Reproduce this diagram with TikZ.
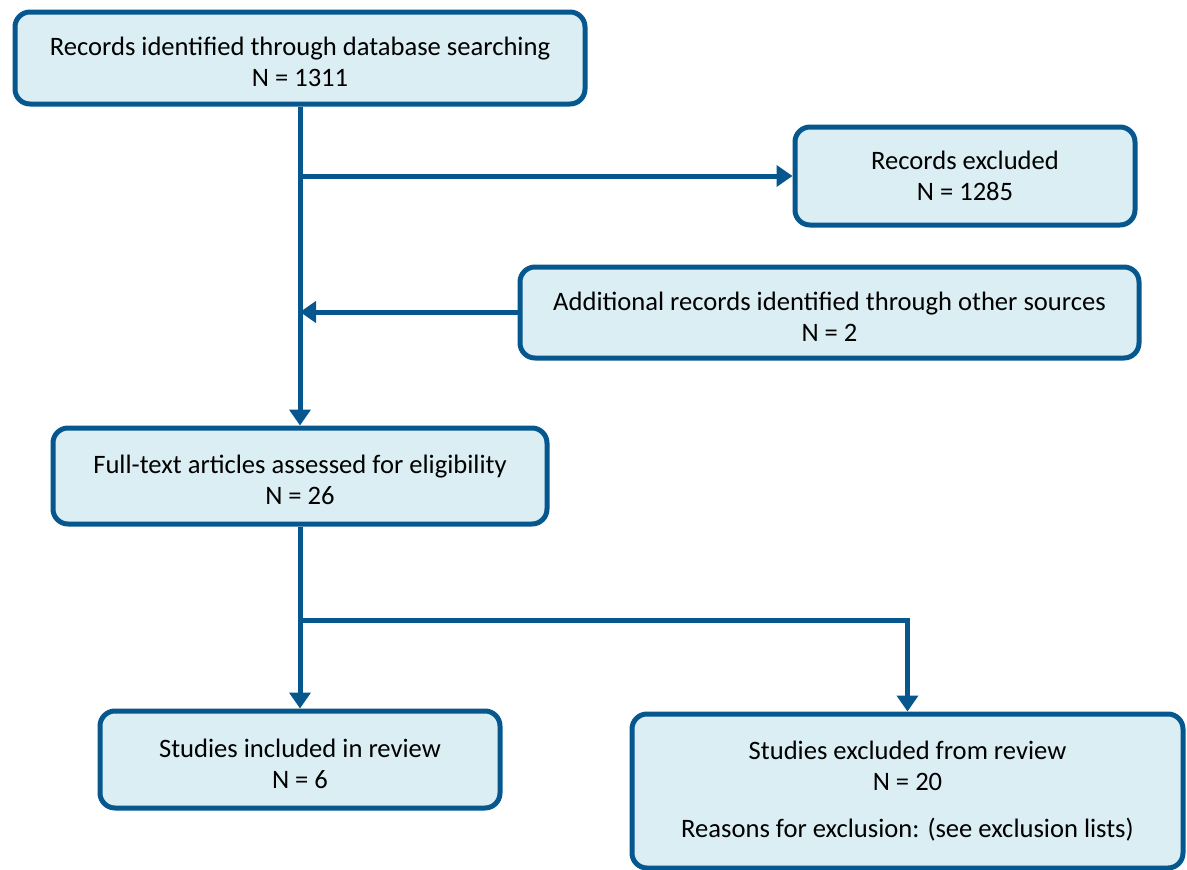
\documentclass[tikz,border=0pt]{standalone}
\usepackage{fontspec}
\setmainfont{Carlito}
\usetikzlibrary{arrows.meta}
\definecolor{edge}{HTML}{05578D}
\definecolor{boxfill}{HTML}{DAEEF3}
% taller first-line strut, nudges two-line box texts a little lower
\newcommand{\toppad}{\rule{0pt}{27pt}}
\begin{document}
\begin{tikzpicture}[x=1pt,y=-1pt,
  flowbox/.style={draw=edge, fill=boxfill, line width=5pt, rounded corners=15pt,
    align=center, inner sep=0pt, font=\fontsize{26.6}{31}\selectfont},
  arr/.style={draw=edge, line width=5pt, -{Triangle[length=16pt,width=21pt]}}]
\useasboundingbox (0,0) rectangle (1187,870);

% boxes (centre, size in px)
\node[flowbox, minimum width=570pt, minimum height=92pt] (top) at (300,58)
  {\toppad Records identified through database searching\\N = 1311};
\node[flowbox, minimum width=340pt, minimum height=98pt] (excl) at (965,176)
  {Records excluded\\N = 1285};
\node[flowbox, minimum width=619pt, minimum height=91pt] (add) at (829.5,312.5)
  {\toppad Additional records identified through other sources\\N = 2};
\node[flowbox, minimum width=494pt, minimum height=96pt] (ft) at (300,476)
  {\toppad Full-text articles assessed for eligibility\\N = 26};
\node[flowbox, minimum width=400pt, minimum height=97pt] (inc) at (300,759.5)
  {\toppad Studies included in review\\N = 6};
\node[flowbox, minimum width=551pt, minimum height=154pt] (exc) at (907.5,791)
  {Studies excluded from review\\N = 20\\[16pt]Reasons for exclusion: (see exclusion lists)};

% branch points on the main trunk
\coordinate (b1) at (300,176);
\coordinate (b2) at (300,312);
\coordinate (b3) at (300,620);

% connectors
\draw[arr] (top.south) -- (ft.north);
\draw[arr] (b1) -- (excl.west);
\draw[arr] (add.west |- b2) -- (b2);
\draw[arr] (ft.south) -- (inc.north);
\draw[arr] (b3) -| (exc.north);
\end{tikzpicture}
\end{document}
